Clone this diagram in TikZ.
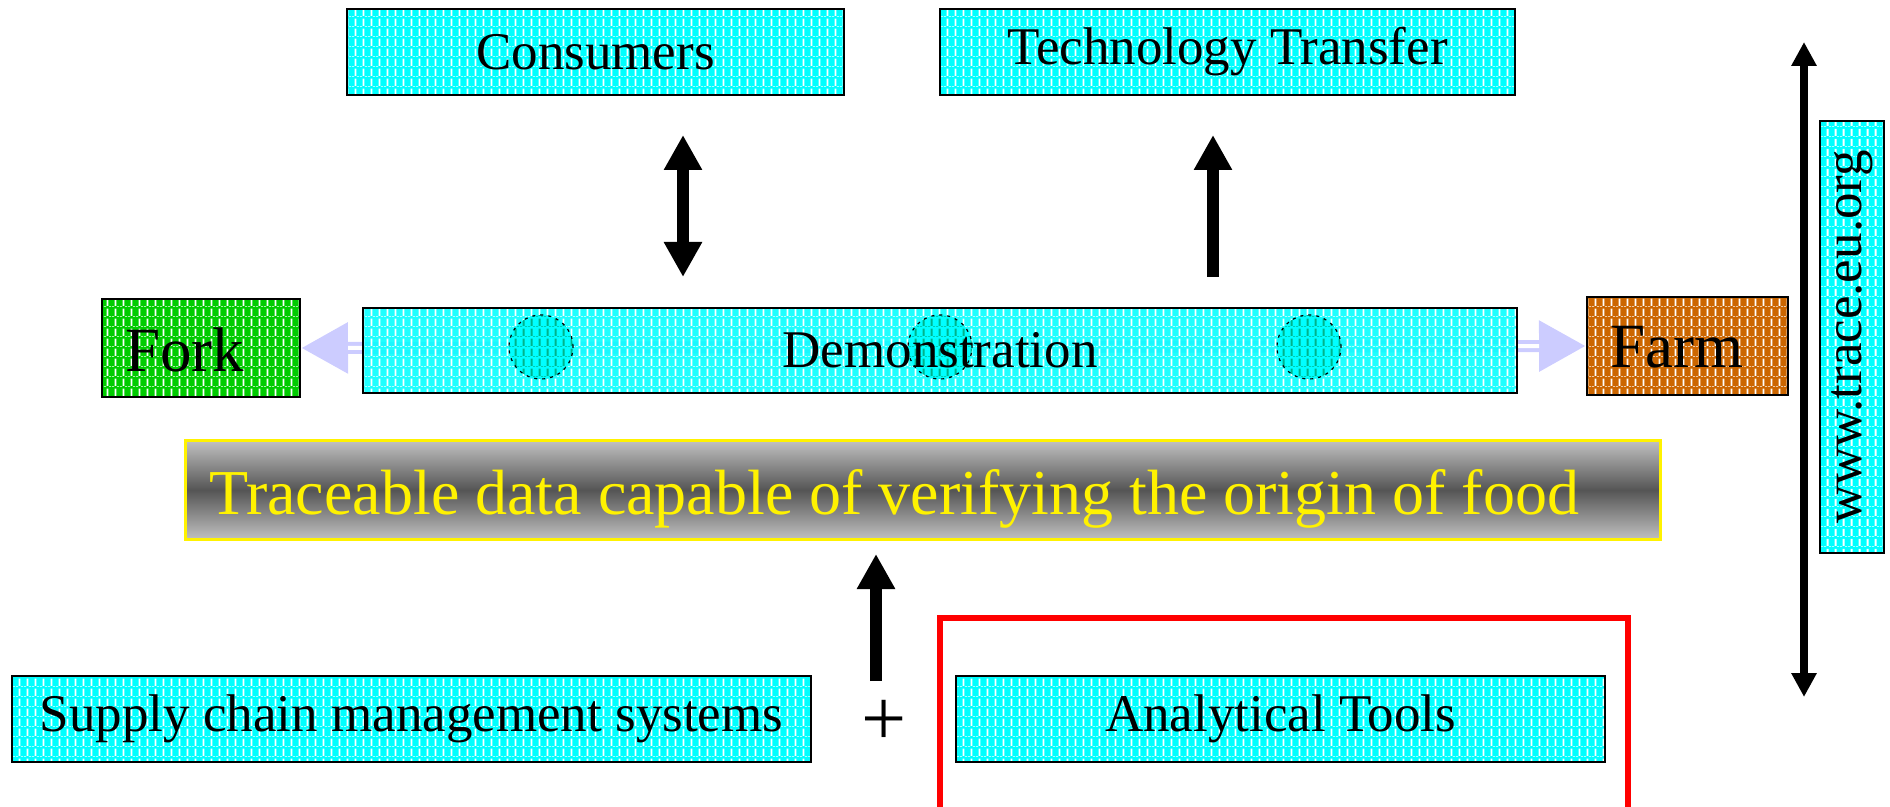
\documentclass[tikz,border=0pt]{standalone}
\usepackage{fontspec}
\setmainfont{Liberation Serif}
\usetikzlibrary{arrows.meta,patterns}

% white dashed grid laid over the coloured fills
\pgfdeclarepatternformonly{hatchgrid}{\pgfpointorigin}{\pgfpoint{4pt}{5pt}}{\pgfpoint{4pt}{5pt}}{%
  \pgfpathrectangle{\pgfpoint{1.5pt}{0.6pt}}{\pgfpoint{1pt}{3.9pt}}%
  \pgfpathrectangle{\pgfpoint{0pt}{0pt}}{\pgfpoint{1.2pt}{0.35pt}}%
  \pgfpathrectangle{\pgfpoint{2.8pt}{0pt}}{\pgfpoint{1.2pt}{0.35pt}}%
  \pgfusepath{fill}%
}

\definecolor{boxcyan}{HTML}{00FFFF}
\definecolor{forkgreen}{HTML}{00CC00}
\definecolor{farmbrown}{HTML}{CC6600}
\definecolor{lav}{HTML}{CCCCFF}
\definecolor{dotteal}{HTML}{00B38A}
\definecolor{bandgray}{HTML}{555555}
\definecolor{edgegray}{HTML}{C0C0C0}

\newcommand\boxtextfont{\fontsize{26.5pt}{30pt}\selectfont}
\newcommand\sidefont{\fontsize{31.5pt}{36pt}\selectfont}
\newcommand\tracetextfont{\fontsize{32pt}{37pt}\selectfont}
\newcommand\plustextfont{\fontsize{40pt}{44pt}\selectfont}

\tikzset{
  tile/.style={draw=black, line width=1pt, preaction={fill=#1}, pattern=hatchgrid,
    pattern color=white, inner sep=0pt, text=black, font=\boxtextfont},
  tile/.default=boxcyan,
  bigarrow/.style={line width=6pt, black},
  >={Triangle[length=17.5pt,width=18pt]},
  spot/.style={circle, minimum size=32pt, inner sep=0pt, draw=black, line width=0.6pt,
    dash pattern=on 1.5pt off 2.5pt, preaction={fill=boxcyan}, pattern=hatchgrid,
    pattern color=dotteal},
}

\begin{document}
\begin{tikzpicture}[x=0.5pt, y=-0.5pt]
\useasboundingbox (0,0) rectangle (1890,807);
\clip (0,0) rectangle (1890,807);

% top row
\node[tile, minimum width=248.5pt, minimum height=43pt] (cons) at (595.5,52) {Consumers};
\node[tile, minimum width=287.5pt, minimum height=43pt] (tech) at (1227.5,52) {Technology Transfer};

% fork and farm ends
\node[tile=forkgreen, minimum width=99pt, minimum height=49pt] (fork) at (201,348) {};
\node[anchor=base west, font=\sidefont, inner sep=0pt] (forktext) at (125,372) {Fork};
\node[tile=farmbrown, minimum width=100.5pt, minimum height=49pt] (farm) at (1687.5,346) {};
\node[anchor=base west, font=\sidefont, inner sep=0pt] (farmtext) at (1610,368) {Farm};

% fork <-> farm chain, running behind the demonstration bar
\draw[lav, line width=6pt, {Triangle[length=23.5pt,width=24pt]}-{Triangle[length=23.5pt,width=24pt]}]
  (fork.east) -- (farm.west);
\draw[white, line width=2pt, shorten <=23.5pt, shorten >=23.5pt] (fork.east) -- (farm.west);

% demonstration bar with its three sites
\node[draw=black, line width=1pt, preaction={fill=boxcyan, fill opacity=0.88}, pattern=hatchgrid,
  pattern color=white, inner sep=0pt, minimum width=577pt, minimum height=42.5pt] (demo) at (940,350.5) {};
\node[spot] (site1) at (541,347) {};
\node[spot] (site2) at (940,347) {};
\node[spot] (site3) at (1309,347) {};
\node[font=\boxtextfont] (demotext) at (940,350.5) {Demonstration};

% traceable data banner
\node[draw=yellow, line width=1.5pt, top color=edgegray, bottom color=edgegray, middle color=bandgray,
  inner sep=0pt, minimum width=737.5pt, minimum height=49pt] (trace) at (922.5,490) {};
\node[anchor=base west, text=yellow, font=\tracetextfont, inner sep=0pt] (tracetext) at (209,515)
  {Traceable data capable of verifying the origin of food};

% bottom row
\node[tile, minimum width=399.5pt, minimum height=43pt] (scm) at (411.5,719) {Supply chain management systems};
\node[font=\plustextfont, inner sep=0pt] (plus) at (884,723) {+};
\node[draw=red, line width=3pt, inner sep=0pt, minimum width=344pt, minimum height=106pt] (frame) at (1284,724) {};
\node[tile, minimum width=324.5pt, minimum height=43pt] (tools) at (1280.5,719) {Analytical Tools};

% web address
\node[tile, rotate=90, minimum width=216pt, minimum height=32pt] (www) at (1852,337) {www.trace.eu.org};

% black arrows
\coordinate (consup) at (683,135);
\coordinate (consdown) at (683,277);
\draw[bigarrow, <->] (consdown) -- (consup);
\coordinate (techup) at (1213,135);
\coordinate (techfoot) at (1213,277);
\draw[bigarrow, ->] (techfoot) -- (techup);
\coordinate (dataup) at (876,554);
\coordinate (datafoot) at (876,681);
\draw[bigarrow, ->] (datafoot) -- (dataup);
\coordinate (spantop) at (1804,42);
\coordinate (spanbot) at (1804,697);
\draw[line width=4pt, black, {Triangle[length=12pt,width=12pt]}-{Triangle[length=12pt,width=12pt]}] (spanbot) -- (spantop);
\end{tikzpicture}
\end{document}
